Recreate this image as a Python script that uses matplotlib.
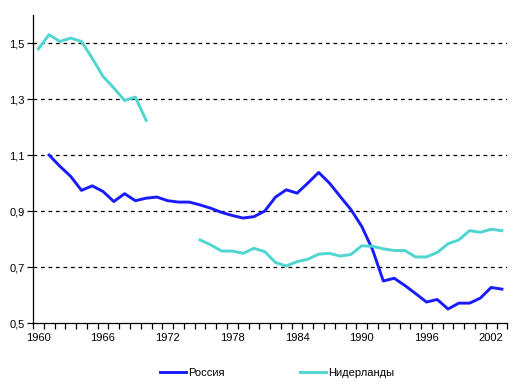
import numpy as np
import matplotlib
matplotlib.use("Agg")
import matplotlib.pyplot as plt
from matplotlib.ticker import FixedLocator, FuncFormatter

plt.rcParams['font.family'] = ['Liberation Sans', 'DejaVu Sans']

# Russia: 1961-2003
russia_years = list(range(1961, 2004))
russia_vals = [1.10, 1.06, 1.024, 0.974, 0.99, 0.97, 0.934, 0.962, 0.937, 0.946,
               0.95, 0.937, 0.932, 0.932, 0.922, 0.91, 0.895, 0.884, 0.875, 0.88,
               0.90, 0.95, 0.976, 0.964, 1.0, 1.038, 1.0, 0.952, 0.905, 0.845,
               0.762, 0.65, 0.66, 0.634, 0.605, 0.575, 0.584, 0.55, 0.571, 0.571,
               0.589, 0.627, 0.621]

# Netherlands: 1960-1970, gap, 1975-2003
nl_years = list(range(1960, 2004))
nl_vals = [1.479, 1.53, 1.506, 1.518, 1.506, 1.446, 1.381, 1.34, 1.295, 1.307,
           1.224, None, None, None, None,
           0.797, 0.779, 0.757, 0.757, 0.749, 0.767, 0.755, 0.716, 0.704, 0.719,
           0.728, 0.746, 0.749, 0.739, 0.745, 0.776, 0.774, 0.765, 0.759, 0.759,
           0.736, 0.736, 0.752, 0.783, 0.797, 0.83, 0.824, 0.835, 0.83]

y_ticks = [0.5, 0.7, 0.9, 1.1, 1.3, 1.5]
x_labels = [1960, 1966, 1972, 1978, 1984, 1990, 1996, 2002]

BLUE = "#1a1aff"
CYAN = "#4fd6d0"
FS = 8

fig = plt.figure(figsize=(5.23, 3.88), dpi=100)
ax = fig.add_axes([0.063, 0.1675, 0.907, 0.7935])

nl_arr = np.array([np.nan if v is None else v for v in nl_vals])
ax.plot(russia_years, russia_vals, color=BLUE, lw=2.1, label="Россия")
ax.plot(nl_years, nl_arr, color=CYAN, lw=2.1, label="Нидерланды")

ax.set_xlim(1959.5, 2003.5)
ax.set_ylim(0.5, 1.6)

for yv in y_ticks[1:]:
    ax.axhline(yv, color="black", lw=0.9, ls=(0, (3, 3)), zorder=0)

ax.set_yticks(y_ticks)
ax.yaxis.set_major_formatter(FuncFormatter(lambda v, p: f"{v:.1f}".replace(".", ",")))
ax.set_xticks(x_labels)
ax.set_xticklabels([str(x) for x in x_labels])
ax.tick_params(axis="x", which="major", length=0, pad=7, labelsize=FS)
ax.xaxis.set_minor_locator(FixedLocator(np.arange(1959.5, 2004, 1.0)))
ax.tick_params(axis="x", which="minor", length=4, width=0.9, direction="out")
ax.tick_params(axis="y", length=4, width=0.9, direction="out", labelsize=FS, pad=2)

ax.spines[['top', 'right']].set_visible(False)
for s in ['left', 'bottom']:
    ax.spines[s].set_linewidth(0.9)

fig.legend(loc="center", bbox_to_anchor=(0.53, 0.039), ncol=2, frameon=False,
           fontsize=FS, handlelength=2.3, handletextpad=0.2, columnspacing=6.8)

fig.savefig("out.png", dpi=100)
